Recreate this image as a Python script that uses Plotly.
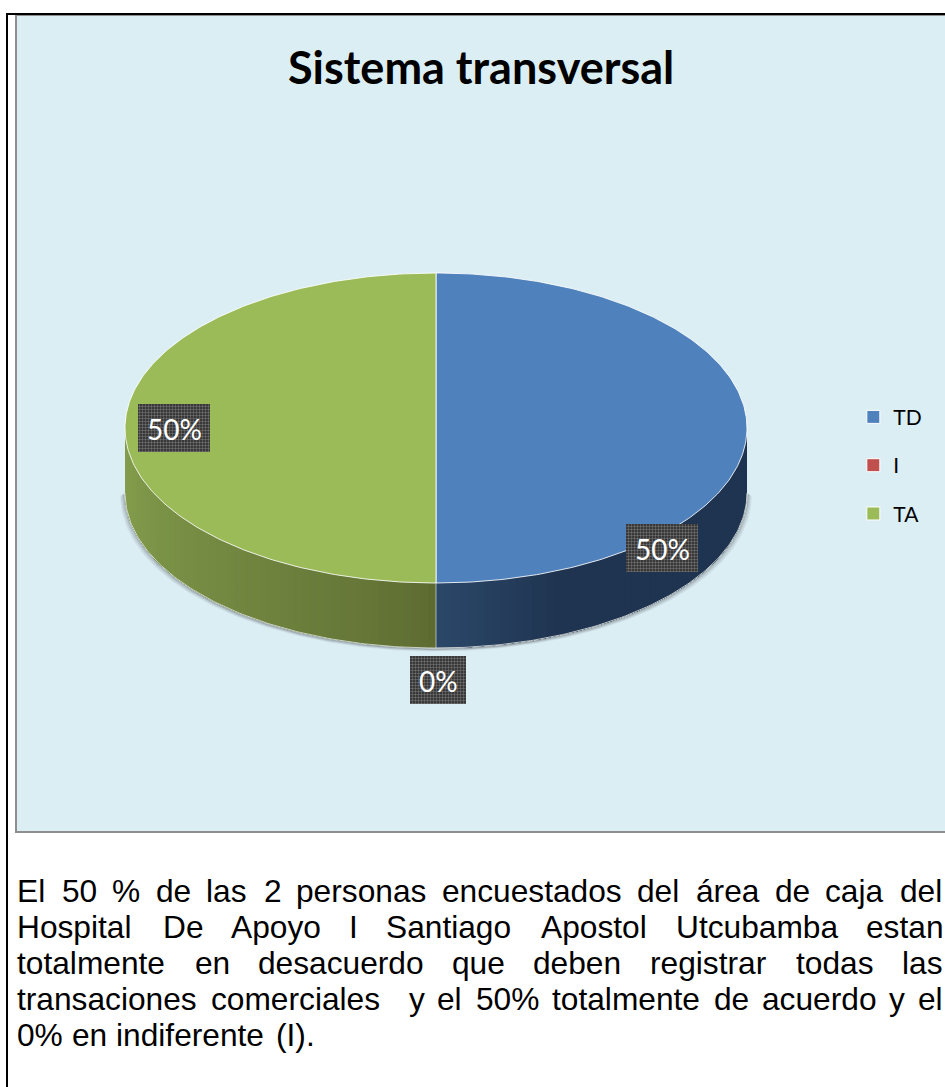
import numpy as np
import plotly.graph_objects as go

# ---- data ----
categories = ["TD", "I", "TA"]
values = [1, 0, 1]
percent_labels = ["50%", "0%", "50%"]
slice_colors = ["#4f81bd", "#c0504d", "#9bbb59"]
title_text = "Sistema transversal"
caption_lines = [
    ["El", "50", "%", "de", "las", "2", "personas", "encuestados", "del", "área", "de", "caja", "del"],
    ["Hospital", "De", "Apoyo", "I", "Santiago", "Apostol", "Utcubamba", "estan"],
    ["totalmente", "en", "desacuerdo", "que", "deben", "registrar", "todas", "las"],
    ["transaciones", "comerciales", "", "y", "el", "50%", "totalmente", "de", "acuerdo", "y", "el"],
    ["0%", "en", "indiferente", "(I)."],
]

# ---- geometry ----
CX, CY, RX, RY, DEPTH = 436, 428, 311, 155, 65

# Arial/Liberation Sans advance widths (em) used to justify the caption
EM = {**dict.fromkeys("abdeghnopquáL0123456789", 0.556), **dict.fromkeys("cksvxyz", 0.5),
      **dict.fromkeys("filj.I t()r", 0.278), "r": 0.333, "(": 0.333, ")": 0.333, "m": 0.833, "%": 0.889,
      "E": 0.667, "H": 0.722, "D": 0.722, "A": 0.667, "S": 0.667, "U": 0.722}
CAP_SIZE = 31.7


def word_w(w):
    return sum(EM.get(ch, 0.556) for ch in w) * CAP_SIZE


def ell(t, dy=0):
    """t in radians clockwise from 12 o'clock."""
    return CX + RX * np.sin(t), CY - RY * np.cos(t) + dy


fig = go.Figure()


def poly(xs, ys, color, line=None, width=0):
    fig.add_trace(go.Scatter(x=xs, y=ys, mode="lines", fill="toself", fillcolor=color,
                             line=dict(color=line or color, width=width), hoverinfo="skip",
                             showlegend=False))


def stroke(xs, ys, color, width):
    fig.add_trace(go.Scatter(x=xs, y=ys, mode="lines", line=dict(color=color, width=width),
                             hoverinfo="skip", showlegend=False))


def lerp(a, b, f):
    return "#%02x%02x%02x" % tuple(int(round(a[i] + (b[i] - a[i]) * f)) for i in range(3))


# chart panel
poly([16, 946, 946, 16, 16], [15, 15, 832, 832, 15], "#dbeef4", "#8e8e8e", 2)

total = sum(values)
edges = 2 * np.pi * np.cumsum([0] + values) / total
t_front = np.linspace(np.pi / 2, 3 * np.pi / 2, 200)

# soft shadow beneath the side wall
for grow, alpha in [(4, 0.07), (3, 0.12), (2, 0.2), (1, 0.3)]:
    sx, sy = ell(t_front, DEPTH + grow * 0.7)
    sx = CX + (sx - CX) * (1 + grow / RX)
    stroke(sx, sy, f"rgba(70,75,80,{alpha})", 1.5)


def wall(t0, t1, colour_at, steps=60):
    """Wall strips painted over each other so that no seams show."""
    ts = np.linspace(t0, t1, steps + 1)
    for a in ts[:-1]:
        tt = np.linspace(a, t1, max(3, int((t1 - a) / (t1 - t0) * 80)))
        x0, y0 = ell(tt)
        x1, y1 = ell(tt, DEPTH)
        poly(np.r_[x0, x1[::-1]], np.r_[y0, y1[::-1]], colour_at(a))


# blue wall runs right to front; painted from the right edge towards the seam
def blue_at(t):
    f = np.clip((np.pi - t) / 0.42, 0, 1)
    return lerp((44, 72, 106), (31, 52, 80), f)


def green_at(t):
    f = (t - np.pi) / (np.pi / 2)
    return lerp((93, 107, 49), (133, 160, 78), f ** 0.8)


wall(np.pi / 2, np.pi, blue_at)
wall(np.pi, 3 * np.pi / 2, green_at)

# seam at the front of the wall
sx0, sy0 = ell(np.pi)
sx1, sy1 = ell(np.pi, DEPTH)
stroke([sx0, sx1], [sy0, sy1], "rgba(205,212,212,0.75)", 1)

# light rim on the lower edge of the wall
bx, by = ell(t_front, DEPTH)
stroke(bx, by, "rgba(222,226,222,0.85)", 1)

# top faces from the values
for v, c, a, b in zip(values, slice_colors, edges[:-1], edges[1:]):
    if v == 0:
        continue
    tt = np.linspace(a, b, 240)
    x, y = ell(tt)
    fig.add_trace(go.Scatter(x=np.r_[CX, x, CX], y=np.r_[CY, y, CY], mode="lines", fill="toself",
                             fillcolor=c, line=dict(color="rgba(255,255,255,0.85)", width=1),
                             hoverinfo="skip", showlegend=False))

# percentage labels with their dithered dark boxes (centre x, centre y, half width)
label_boxes = [(662, 548, 36), (438, 680, 28), (174, 428, 36)]
BH = 24
for (lx, ly, bw), txt in zip(label_boxes, percent_labels):
    fig.add_trace(go.Scatter(
        x=[lx - bw, lx + bw, lx + bw, lx - bw, lx - bw],
        y=[ly - BH, ly - BH, ly + BH, ly + BH, ly - BH],
        mode="lines", fill="toself", line=dict(width=0),
        fillcolor="#333333",
        fillpattern=dict(shape=".", bgcolor="#262626", fgcolor="#6e6e6e", size=3, solidity=0.5, fillmode="replace"),
        hoverinfo="skip", showlegend=False))
    fig.add_annotation(x=lx, y=ly + 1, text=txt, showarrow=False, xanchor="center", yanchor="middle",
                       font=dict(family="Lato", size=28, color="white"))

# legend
for name, c in zip(categories, slice_colors):
    fig.add_trace(go.Scatter(x=[None], y=[None], mode="markers", name=name, legendgroup=name,
                             marker=dict(symbol="square", size=13, color=c, line=dict(color="white", width=1))))

# frame around the page
stroke([945, 7, 7], [14, 14, 1087], "black", 2)

# title
fig.add_annotation(x=481, y=67, text=f"<b>{title_text}</b>", showarrow=False, xanchor="center", yanchor="middle",
                   font=dict(family="Lato", size=45, color="black"))

# caption, justified between the left edge and the page edge; the last line is set solid
line_y = [891, 927, 963, 999, 1035]
LEFT, RIGHT = 18, 945
for i, (words, y0) in enumerate(zip(caption_lines, line_y)):
    widths = [word_w(w) for w in words]
    last = i == len(caption_lines) - 1
    gap = 0.278 * CAP_SIZE if last else (RIGHT - LEFT - sum(widths)) / (len(words) - 1)
    x = LEFT
    for w, wd in zip(words, widths):
        if w:
            fig.add_annotation(x=x, y=y0, text=w, showarrow=False, xanchor="left", yanchor="middle", xshift=-3,
                               font=dict(family="Liberation Sans", size=CAP_SIZE, color="black"))
        x += wd + gap

fig.update_layout(
    width=945, height=1087, margin=dict(l=0, r=0, t=0, b=0),
    paper_bgcolor="white", plot_bgcolor="white",
    xaxis=dict(range=[0, 945], visible=False, fixedrange=True),
    yaxis=dict(range=[1087, 0], visible=False, fixedrange=True),
    showlegend=True,
    legend=dict(x=0.903, y=0.572, xanchor="left", yanchor="middle", bgcolor="rgba(0,0,0,0)",
                tracegroupgap=18, font=dict(family="Lato", size=21, color="black"), itemclick=False),
)

fig.write_html("out.html", config=dict(displayModeBar=False),
               post_script="document.body.style.margin='0';document.body.style.overflow='hidden';")
